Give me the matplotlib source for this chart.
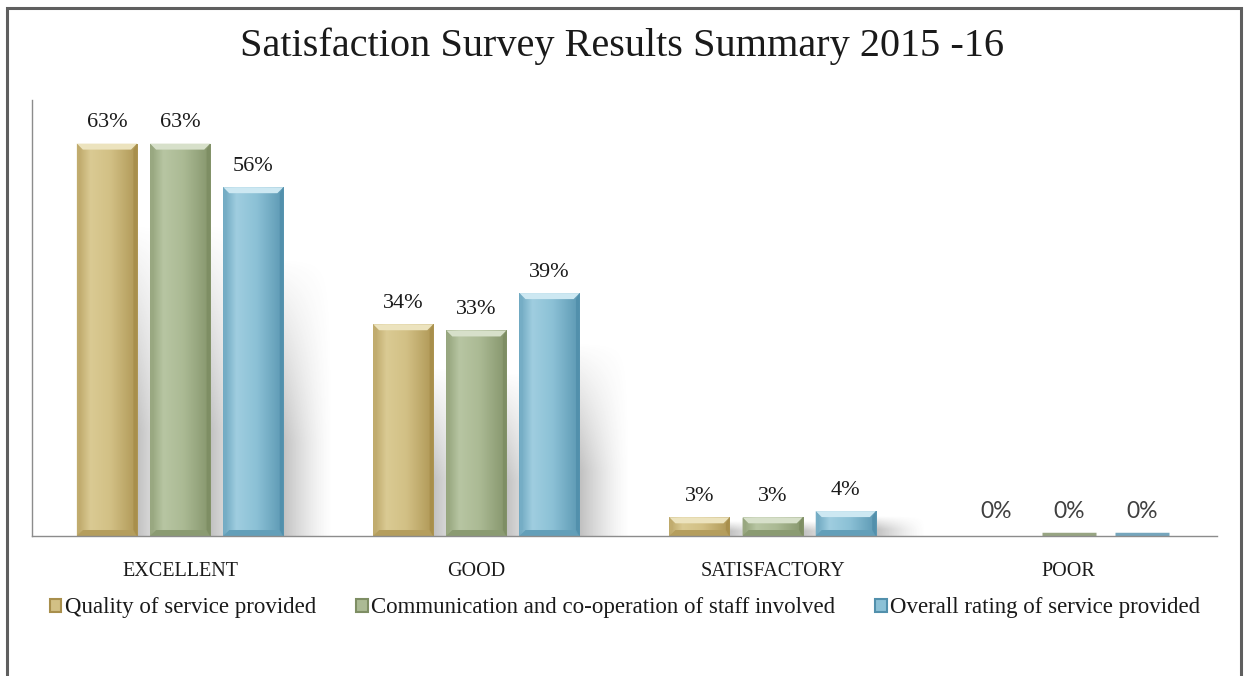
import numpy as np
import matplotlib; matplotlib.use('Agg')
import matplotlib.pyplot as plt
from matplotlib.patches import Polygon, Rectangle
from matplotlib.colors import to_rgb

categories = ['EXCELLENT', 'GOOD', 'SATISFACTORY', 'POOR']
series = ['Quality of service provided',
          'Communication and co-operation of staff involved',
          'Overall rating of service provided']
quality = [63, 34, 3, 0]
communication = [63, 33, 3, 0]
overall = [56, 39, 4, 0]
values = [quality, communication, overall]

# (dark, mid, light) per series
palette = [('#A88F4C', '#D2C085', '#E6D9A8'),
           ('#7E8E64', '#ABBA94', '#CAD6B8'),
           ('#5290AC', '#8CC1D6', '#BCE0EE')]

plt.rcParams['font.family'] = ['Liberation Serif', 'DejaVu Serif']

fig = plt.figure(figsize=(12.45, 6.76), dpi=100)
ax = fig.add_axes([32/1245, 1-536/676, (1217-32)/1245, 436/676])
ax.set_xlim(-0.5, 3.5)
ax.set_ylim(0, 70)

width = 0.203
step = 0.247
ypx = 436/70.0      # px per unit on y
xpx = 1185/4.0      # px per unit on x
x = np.arange(len(categories))

def blend(a, b, t):
    a, b = np.array(to_rgb(a)), np.array(to_rgb(b))
    return a*(1-t) + b*t

for i, vals in enumerate(values):
    dark, mid, light = palette[i]
    xs = x + (i-1)*step
    bars = ax.bar(xs, vals, width, color=mid, zorder=3, linewidth=0)
    for b, v in zip(bars, vals):
        bx, bw, bh = b.get_x(), b.get_width(), b.get_height()
        # soft shadow to the right
        if bh > 0:
            n = 60
            sh = np.zeros((n, n, 4))
            gx = np.linspace(1, 0, n)[None, :]
            gy = np.linspace(0, 1, n)[:, None]
            sh[..., :3] = 0.3
            sh[..., 3] = 0.6*gx**1.4*np.clip(gy*1.5, 0, 1)
            ax.imshow(sh, extent=[bx+bw*0.6, bx+bw+0.17, 0, bh*0.8],
                      aspect='auto', origin='upper', zorder=2, interpolation='bilinear')
        # horizontal gradient body
        n = 100
        t = np.linspace(0, 1, n)
        stops = [(0, blend(dark, mid, 0.45)), (0.22, blend(mid, light, 0.4)),
                 (0.55, np.array(to_rgb(mid))), (1.0, blend(dark, mid, 0.15))]
        grad = np.zeros((1, n, 3))
        for k in range(3):
            grad[0, :, k] = np.interp(t, [s[0] for s in stops], [s[1][k] for s in stops])
        if bh > 0:
            im = ax.imshow(grad, extent=[bx, bx+bw, 0, bh], aspect='auto',
                           zorder=4, interpolation='bilinear')
            im.set_clip_path(b)
            # bevels
            tb = min(6/ypx, bh/2.5)
            db = 6/xpx
            top = Polygon([(bx, bh), (bx+bw, bh), (bx+bw-db, bh-tb), (bx+db, bh-tb)],
                          closed=True, color=blend(light, 'white', 0.25), zorder=5, lw=0)
            bot = Polygon([(bx, 0), (bx+bw, 0), (bx+bw-db, tb), (bx+db, tb)],
                          closed=True, color=blend(dark, mid, 0.3), zorder=5, lw=0)
            lft = Polygon([(bx, 0), (bx, bh), (bx+db*0.5, bh-tb), (bx+db*0.5, tb)],
                          closed=True, color=blend(dark, mid, 0.6), zorder=5, lw=0)
            rgt = Polygon([(bx+bw, 0), (bx+bw, bh), (bx+bw-db*0.6, bh-tb), (bx+bw-db*0.6, tb)],
                          closed=True, color=dark, zorder=5, lw=0)
            for p in (top, bot, lft, rgt):
                ax.add_patch(p)
        else:
            if i > 0:
                ax.plot([bx+0.01, bx+bw-0.01], [0.25, 0.25], color=blend(dark, 'white', 0.2),
                        lw=2.5, zorder=4, solid_capstyle='butt')
        # data label
        if v == 0:
            ax.text(bx+bw/2, bh+2.3, f'{v}%', ha='center', va='bottom', fontsize=16.5,
                    family=['Lato', 'DejaVu Sans'], color='#404040', zorder=6)
        else:
            ax.text(bx+bw/2, bh+1.8, f'{v}%', ha='center', va='bottom', fontsize=16,
                    color='#1a1a1a', zorder=6)

for s in ['top', 'right']:
    ax.spines[s].set_visible(False)
for s in ['left', 'bottom']:
    ax.spines[s].set_color('#8c8c8c')
    ax.spines[s].set_linewidth(1.0)
    ax.spines[s].set_zorder(6)
ax.set_yticks([])
ax.set_xticks(x)
ax.set_xticklabels(categories, fontsize=14.5, color='#1a1a1a')
ax.tick_params(axis='x', length=0, pad=19)

fig.text(0.5, 1-46/676, 'Satisfaction Survey Results Summary 2015 -16', ha='center',
         va='center', fontsize=29, color='#1a1a1a')

handles = [Rectangle((0, 0), 1, 1, facecolor=p[1], edgecolor=p[0], lw=1.5) for p in palette]
fig.legend(handles, series, loc='center', bbox_to_anchor=(625/1245, 1-608/676), ncol=3,
           frameon=False, fontsize=16.5, handlelength=0.5, handleheight=0.5,
           handletextpad=0.15, columnspacing=1.75, labelcolor='#1a1a1a')

# outer frame (bottom edge runs off the image)
fig.add_artist(Rectangle((7/1245, -0.1), (1241-7)/1245, 1.1-8/676, transform=fig.transFigure,
                         fill=False, edgecolor='#5f5f5f', lw=2.2))

fig.savefig('out.png', dpi=100)
